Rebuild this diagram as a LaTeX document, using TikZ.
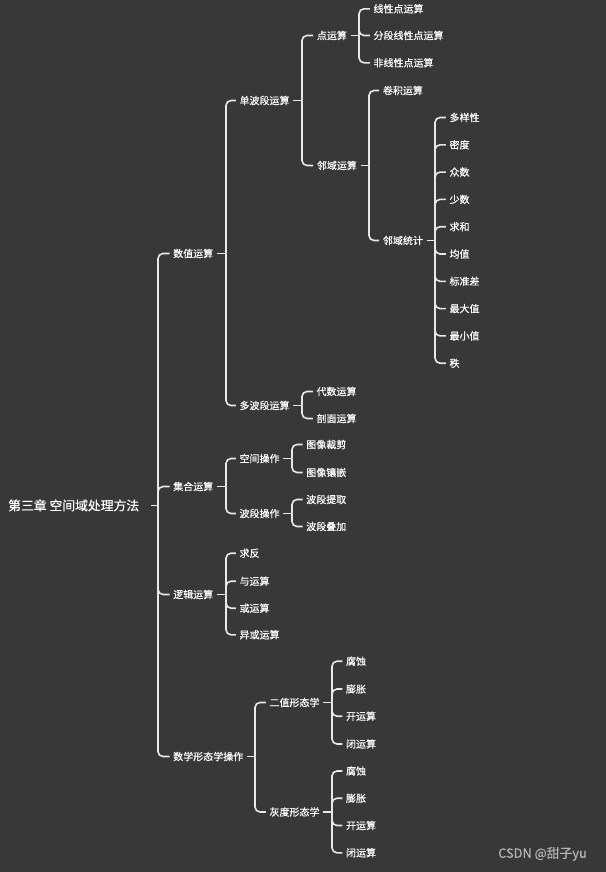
\documentclass[tikz,border=0pt]{standalone}
\usepackage{fontspec}
\setmainfont{Noto Sans CJK SC}[FakeBold=0.35]
\definecolor{bg}{HTML}{383838}
\definecolor{ln}{HTML}{E8E8E8}
\definecolor{wm}{HTML}{B4B4B4}
\begin{document}
\begin{tikzpicture}[x=0.75pt,y=-0.75pt,
  lab/.style={anchor=west,text=white,font=\fontsize{7.5}{9}\selectfont,
    inner xsep=2.6pt,inner ysep=0pt,text height=6.6pt,text depth=0.9pt},
  rootlab/.style={anchor=west,text=white,font=\fontsize{9.6}{11}\selectfont,
    inner xsep=9pt,inner ysep=0pt,text height=8.4pt,text depth=1.2pt},
  conn/.style={draw=ln,line width=1.2pt,rounded corners=3.75pt}]
\fill[bg] (0,0) rectangle (606,872);
\useasboundingbox (0,0) rectangle (606,872);
% nodes
\node[rootlab] (r) at (-4,505.5) {第三章 空间域处理方法};
\node[lab] (A) at (169.5,253.5) {数值运算};
\node[lab] (A1) at (235.8,100.5) {单波段运算};
\node[lab] (A11) at (313.2,35.5) {点运算};
\node[lab] (A111) at (369.8,8.8) {线性点运算};
\node[lab] (A112) at (369.8,35.5) {分段线性点运算};
\node[lab] (A113) at (369.8,62.8) {非线性点运算};
\node[lab] (A12) at (313.2,165.5) {邻域运算};
\node[lab] (A121) at (379.2,90.5) {卷积运算};
\node[lab] (A122) at (379.2,240.5) {邻域统计};
\node[lab] (s1) at (445.8,117.5) {多样性};
\node[lab] (s2) at (445.8,144.8) {密度};
\node[lab] (s3) at (445.8,172.1) {众数};
\node[lab] (s4) at (445.8,199.4) {少数};
\node[lab] (s5) at (445.8,226.7) {求和};
\node[lab] (s6) at (445.8,254) {均值};
\node[lab] (s7) at (445.8,281.3) {标准差};
\node[lab] (s8) at (445.8,308.6) {最大值};
\node[lab] (s9) at (445.8,335.9) {最小值};
\node[lab] (s10) at (445.8,363.2) {秩};
\node[lab] (A2) at (235.8,405.5) {多波段运算};
\node[lab] (A21) at (312.8,391.5) {代数运算};
\node[lab] (A22) at (312.8,418.5) {剖面运算};
\node[lab] (B) at (169.5,486.5) {集合运算};
\node[lab] (B1) at (235.8,458.5) {空间操作};
\node[lab] (B11) at (302.5,444.5) {图像裁剪};
\node[lab] (B12) at (302.5,472.5) {图像镶嵌};
\node[lab] (B2) at (235.8,513.5) {波段操作};
\node[lab] (B21) at (302.5,499.5) {波段提取};
\node[lab] (B22) at (302.5,526.5) {波段叠加};
\node[lab] (C) at (169.5,594.5) {逻辑运算};
\node[lab] (C1) at (235.8,553.2) {求反};
\node[lab] (C2) at (235.8,581.2) {与运算};
\node[lab] (C3) at (235.8,608.2) {或运算};
\node[lab] (C4) at (235.8,634.8) {异或运算};
\node[lab] (D) at (169.5,756.5) {数学形态学操作};
\node[lab] (D1) at (265.8,702.5) {二值形态学};
\node[lab] (D11) at (342.3,661.2) {腐蚀};
\node[lab] (D12) at (342.3,689) {膨胀};
\node[lab] (D13) at (342.3,716.2) {开运算};
\node[lab] (D14) at (342.3,744) {闭运算};
\node[lab] (D2) at (265.8,812) {灰度形态学};
\node[lab] (D21) at (342.3,771) {腐蚀};
\node[lab] (D22) at (342.3,798.2) {膨胀};
\node[lab] (D23) at (342.3,825.5) {开运算};
\node[lab] (D24) at (342.3,852.8) {闭运算};
\node[anchor=west,text=wm,font=\fontsize{9.6}{11}\selectfont,inner sep=0pt] (wmk) at (498,854) {CSDN @甜子yu};
% junctions
\coordinate (jr) at (158,505.5);
\coordinate (jA) at (226,253.5);
\coordinate (jA1) at (302,100.5);
\coordinate (jA11) at (359,35.5);
\coordinate (jA12) at (369,165.5);
\coordinate (jA122) at (435,240.5);
\coordinate (jA2) at (302,405.5);
\coordinate (jB) at (226,486.5);
\coordinate (jB1) at (292,458.5);
\coordinate (jB2) at (292,513.5);
\coordinate (jC) at (226,594.5);
\coordinate (jD) at (255,756.5);
\coordinate (jD1) at (332,702.5);
\coordinate (jD2) at (332,812);
% connectors
\foreach \p/\j/\cs in {r/jr/{A,B,C,D},
  A/jA/{A1,A2}, A1/jA1/{A11,A12}, A11/jA11/{A111,A112,A113},
  A12/jA12/{A121,A122}, A122/jA122/{s1,s2,s3,s4,s5,s6,s7,s8,s9,s10},
  A2/jA2/{A21,A22}, B/jB/{B1,B2}, B1/jB1/{B11,B12}, B2/jB2/{B21,B22},
  C/jC/{C1,C2,C3,C4}, D/jD/{D1,D2}, D1/jD1/{D11,D12,D13,D14},
  D2/jD2/{D21,D22,D23,D24}}{
  \draw[conn] (\p.east) -- (\j);
  \foreach \c in \cs {\draw[conn] (\j) |- (\c.west);}
}
\end{tikzpicture}
\end{document}
